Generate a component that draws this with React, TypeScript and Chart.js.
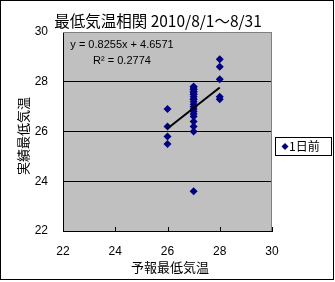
import React, { useEffect, useRef } from "react";
import { Chart, registerables } from "chart.js";

Chart.register(...registerables);

// 予報最低気温 (x) and 実績最低気温 (y), 2010/8/1～8/31
const forecast = [26, 26, 26, 26,
  27, 27, 27, 27, 27, 27, 27, 27, 27, 27, 27, 27, 27, 27, 27, 27, 27, 27, 27, 27, 27, 27,
  28, 28, 28, 28, 28];
const actual = [26.9, 26.2, 25.8, 25.5,
  27.8, 27.8, 27.7, 27.7, 27.6, 27.6, 27.5, 27.5, 27.4, 27.3, 27.3, 27.2, 27.1, 27.0, 26.9, 26.8, 26.7, 26.6, 26.4, 26.2, 26.0, 23.6,
  28.9, 28.6, 28.1, 27.4, 27.3];
const trendSlope = 0.8255;
const trendIntercept = 4.6571;
const trendRange = [26, 28];
const xTicks = [22, 24, 26, 28, 30];
const yTicks = [22, 24, 26, 28, 30];
const titleText = "最低気温相関 2010/8/1～8/31";
const xTitle = "予報最低気温";
const yTitle = "実績最低気温";
const seriesName = "1日前";
const eqText = "y = 0.8255x + 4.6571";
const r2Text = "R² = 0.2774";

const JP = "'Noto Sans CJK JP', sans-serif";
const NUM = "'Liberation Sans', Arial, sans-serif";
const MARK = "#000080";

const decorPlugin = {
  id: "decor",
  beforeDraw(chart: any) {
    const { ctx, chartArea: a } = chart;
    ctx.save();
    ctx.fillStyle = "#C0C0C0";
    ctx.fillRect(a.left, a.top, a.right - a.left, a.bottom - a.top);
    ctx.restore();
  },
  afterDraw(chart: any) {
    const { ctx, chartArea: a, scales } = chart;
    ctx.save();
    // outer frame
    ctx.strokeStyle = "#000";
    ctx.lineWidth = 1;
    ctx.strokeRect(0.5, 0.5, 333, 279);
    // top/right plot border in gray
    ctx.strokeStyle = "#808080";
    ctx.beginPath();
    ctx.moveTo(a.left, Math.round(a.top) + 0.5);
    ctx.lineTo(a.right, Math.round(a.top) + 0.5);
    ctx.moveTo(Math.round(a.right) - 0.5, a.top);
    ctx.lineTo(Math.round(a.right) - 0.5, a.bottom);
    ctx.stroke();
    // inside tick marks on x axis
    ctx.strokeStyle = "#000";
    ctx.beginPath();
    for (const v of xTicks) {
      const px = Math.round(scales.x.getPixelForValue(v)) + 0.5;
      ctx.moveTo(px, a.bottom);
      ctx.lineTo(px, a.bottom - 4);
    }
    ctx.stroke();
    // title
    ctx.fillStyle = "#000";
    ctx.font = "15.5px " + JP;
    ctx.textAlign = "center";
    ctx.textBaseline = "middle";
    ctx.fillText(titleText, 158, 21);
    // axis titles
    ctx.font = "13px " + JP;
    ctx.fillText(xTitle, 170, 267);
    ctx.save();
    ctx.translate(23, 136);
    ctx.rotate(-Math.PI / 2);
    ctx.fillText(yTitle, 0, 0);
    ctx.restore();
    // trend equation
    ctx.font = "11px " + NUM;
    ctx.fillText(eqText, 122, 45);
    ctx.fillText(r2Text, 122, 61);
    // legend
    const lx = 275, ly = 137, lw = 56, lh = 18;
    ctx.fillStyle = "#fff";
    ctx.fillRect(lx, ly, lw, lh);
    ctx.strokeStyle = "#000";
    ctx.strokeRect(lx + 0.5, ly + 0.5, lw, lh);
    ctx.fillStyle = MARK;
    ctx.beginPath();
    const cx = 285, cy = ly + lh / 2 + 0.5;
    ctx.moveTo(cx, cy - 3.5);
    ctx.lineTo(cx + 3.5, cy);
    ctx.lineTo(cx, cy + 3.5);
    ctx.lineTo(cx - 3.5, cy);
    ctx.closePath();
    ctx.fill();
    ctx.fillStyle = "#000";
    ctx.textAlign = "left";
    ctx.font = "12px " + JP;
    ctx.fillText(seriesName, 289, cy);
    ctx.restore();
  },
};

export default function App() {
  const ref = useRef<HTMLCanvasElement>(null);
  useEffect(() => {
    document.body.style.margin = "0";
    const points = forecast.map((x, i) => ({ x, y: actual[i] }));
    const trend = trendRange.map((x) => ({ x, y: trendSlope * x + trendIntercept }));
    const chart = new Chart(ref.current!, {
      type: "scatter",
      data: {
        datasets: [
          {
            label: "trend",
            data: trend,
            showLine: true,
            borderColor: "#000",
            borderWidth: 2,
            pointRadius: 0,
          } as any,
          {
            label: seriesName,
            data: points,
            pointStyle: "rectRot",
            pointRadius: 4,
            backgroundColor: MARK,
            borderColor: MARK,
            borderWidth: 0,
          },
        ],
      },
      options: {
        animation: false,
        responsive: false,
        layout: { padding: { left: 13, right: 63, top: 32, bottom: 11 } },
        plugins: { legend: { display: false }, tooltip: { enabled: false }, title: { display: false } },
        scales: {
          x: {
            type: "linear",
            min: 22,
            max: 30,
            afterBuildTicks: (s: any) => { s.ticks = xTicks.map((v) => ({ value: v })); },
            afterFit: (s: any) => { s.height = 40; },
            grid: { display: false, drawTicks: false },
            border: { display: true, color: "#000", width: 1 },
            ticks: { color: "#000", font: { size: 12, family: NUM }, padding: 13 },
          },
          y: {
            type: "linear",
            min: 22,
            max: 30,
            afterBuildTicks: (s: any) => { s.ticks = yTicks.map((v) => ({ value: v })); },
            afterFit: (s: any) => { s.width = 50; },
            grid: {
              drawTicks: false,
              color: (c: any) => (c.tick && (c.tick.value === 30) ? "rgba(0,0,0,0)" : "#000"),
            },
            border: { display: true, color: "#000", width: 1 },
            ticks: { color: "#000", font: { size: 12, family: NUM }, padding: 15 },
          },
        },
      },
      plugins: [decorPlugin],
    });
    return () => chart.destroy();
  }, []);
  return (
    <div style={{ position: "absolute", left: 0, top: 0, width: 335, height: 282, background: "#fff" }}>
      <canvas ref={ref} width={335} height={282} style={{ display: "block", width: 335, height: 282 }} />
    </div>
  );
}
